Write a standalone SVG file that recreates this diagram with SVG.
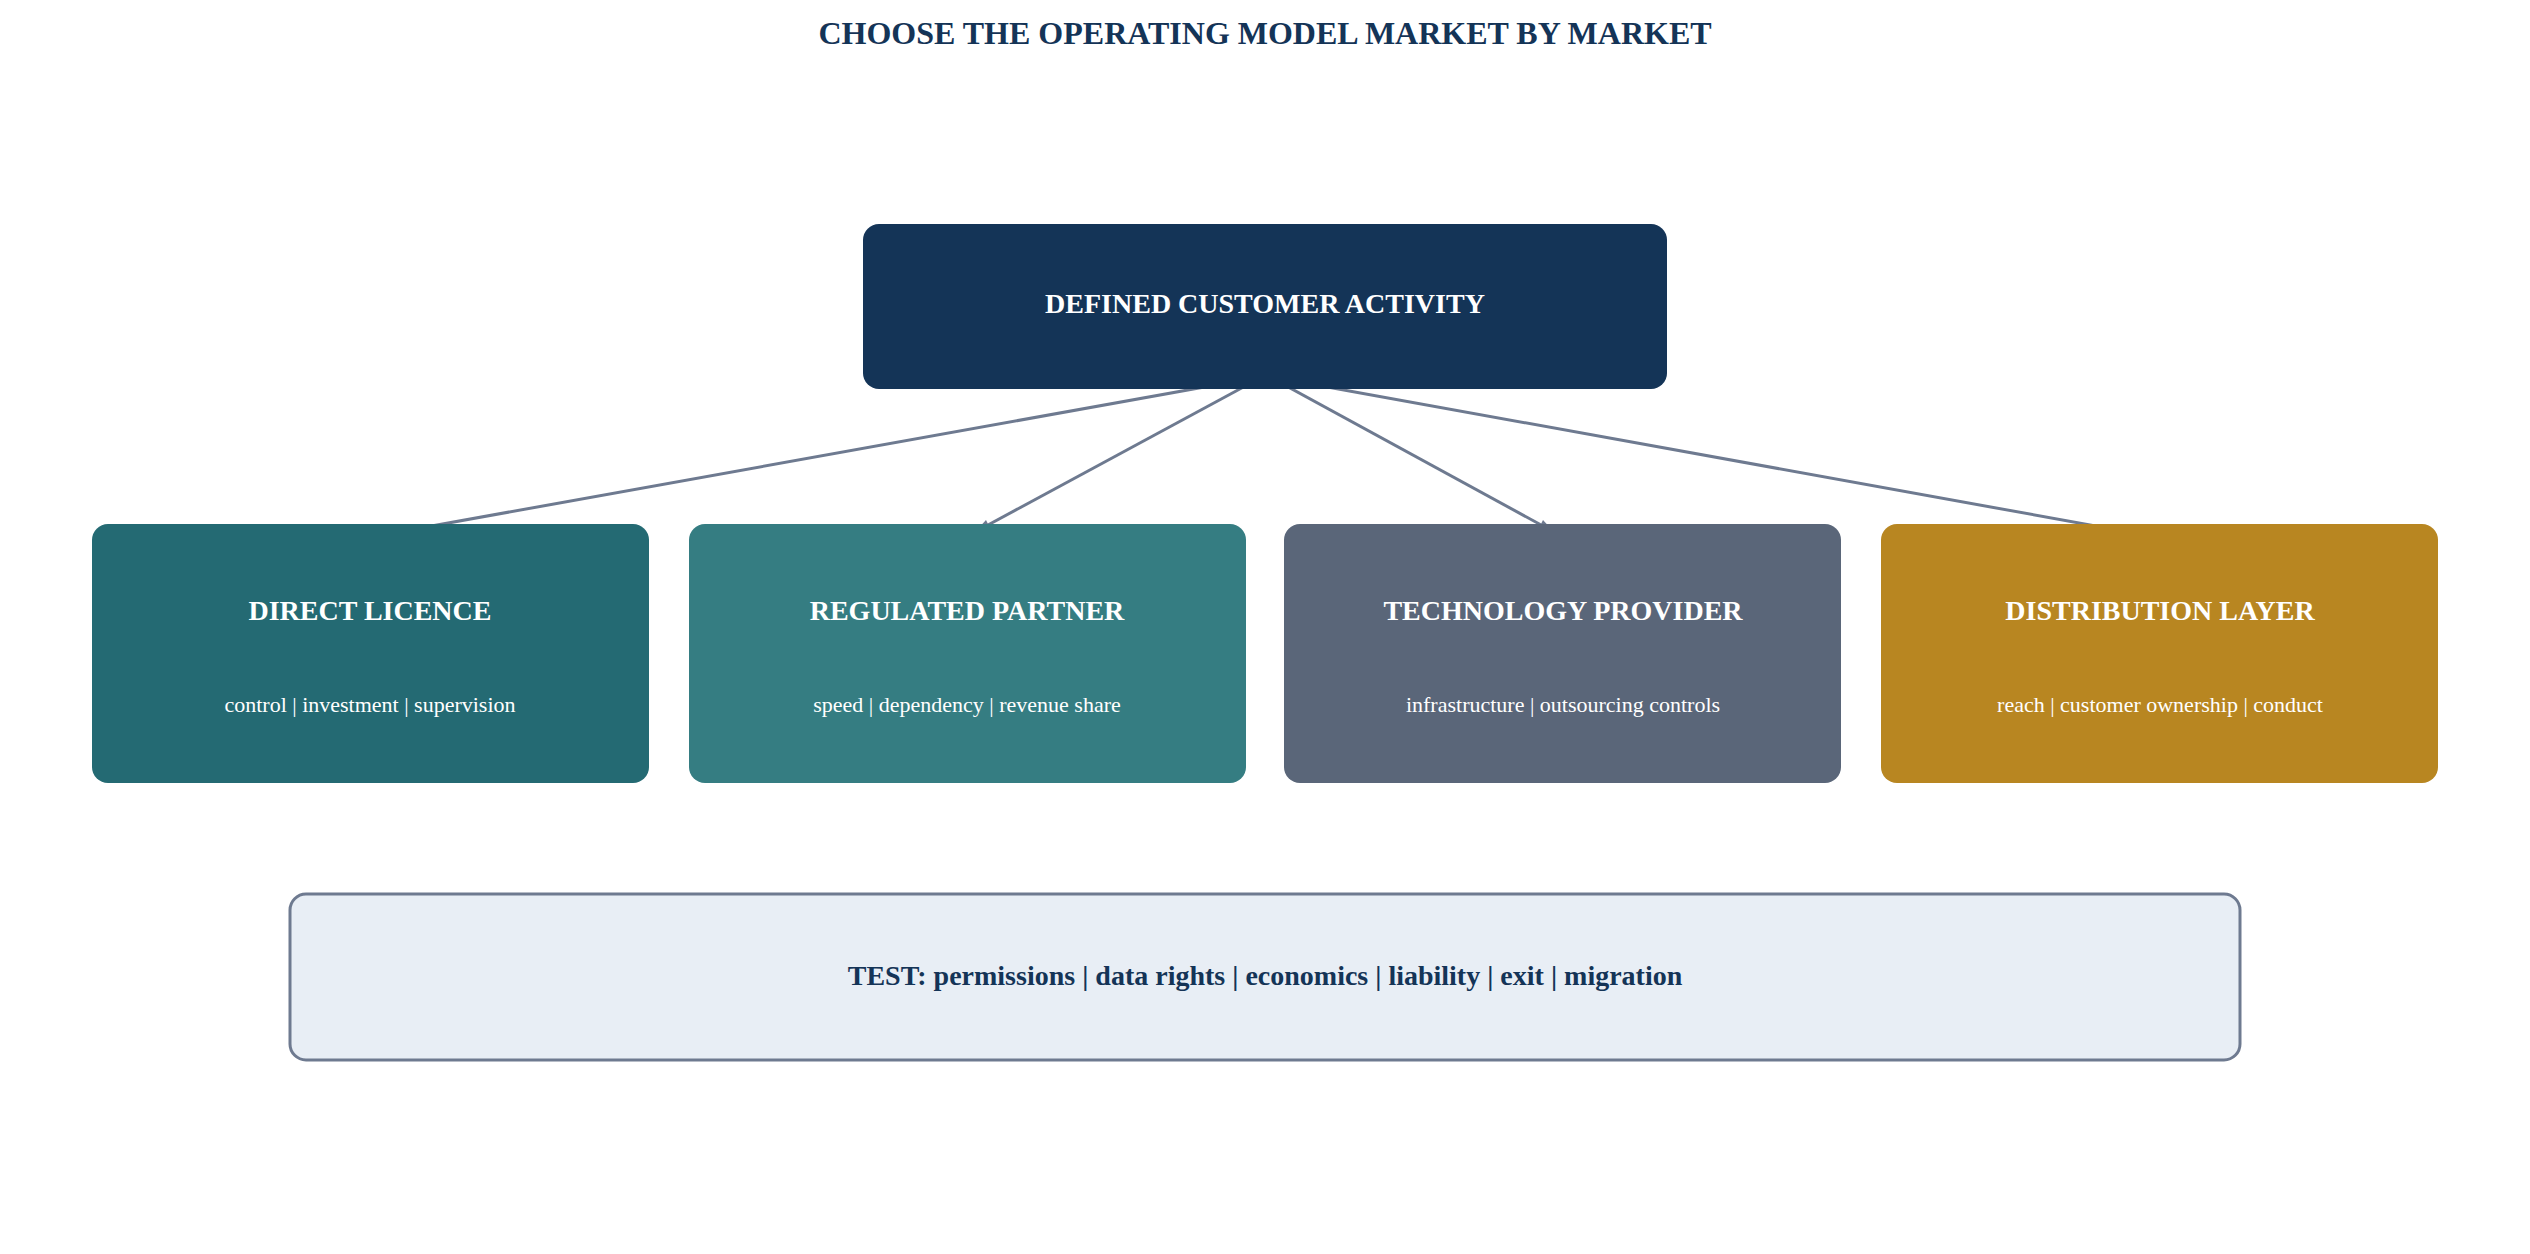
<svg xmlns="http://www.w3.org/2000/svg" width="2530" height="1254" viewBox="0 0 2530 1254">
<style>
text{font-family:"Liberation Serif","Times New Roman",serif;text-anchor:middle}
.t{font-weight:bold;fill:#fff;font-size:28px}
.s{fill:#fff;font-size:22px}
.c{stroke:#6e7a90;stroke-width:3;fill:none;marker-end:url(#a)}
</style>
<defs><marker id="a" viewBox="0 0 10 10" refX="9" refY="5" markerWidth="6" markerHeight="6" orient="auto" markerUnits="userSpaceOnUse" ><path d="M0,0L10,5L0,10z" fill="#6e7a90"/></marker></defs>
<rect width="2530" height="1254" fill="#fff"/>
<text x="1265" y="44" font-size="32" font-weight="bold" fill="#143457">CHOOSE THE OPERATING MODEL MARKET BY MARKET</text>
<g id="connectors">
<line class="c" x1="1260" y1="377" x2="376" y2="536" style="marker-end:none"/><path d="M376,536 l16,-8 l-2,12z" fill="#6e7a90"/>
<line class="c" x1="1262" y1="377" x2="975" y2="532" style="marker-end:none"/><path d="M975,532 l11,-12 l5,10z" fill="#6e7a90"/>
<line class="c" x1="1270" y1="377" x2="1554" y2="532" style="marker-end:none"/><path d="M1554,532 l-16,-2 l5,-10z" fill="#6e7a90"/>
<line class="c" x1="1272" y1="377" x2="2151" y2="536" style="marker-end:none"/><path d="M2151,536 l-18,4 l2,-12z" fill="#6e7a90"/>
</g>
<g id="top"><rect x="863" y="224" width="804" height="165" rx="16" fill="#143457"/><text class="t" x="1265" y="313" font-size="30">DEFINED CUSTOMER ACTIVITY</text></g>
<g id="n1"><rect x="92" y="524" width="557" height="259" rx="16" fill="#246a73"/><text class="t" x="370" y="620">DIRECT LICENCE</text><text class="s" x="370" y="712">control | investment | supervision</text></g>
<g id="n2"><rect x="689" y="524" width="557" height="259" rx="16" fill="#357d82"/><text class="t" x="967" y="620">REGULATED PARTNER</text><text class="s" x="967" y="712">speed | dependency | revenue share</text></g>
<g id="n3"><rect x="1284" y="524" width="557" height="259" rx="16" fill="#5a6679"/><text class="t" x="1563" y="620">TECHNOLOGY PROVIDER</text><text class="s" x="1563" y="712">infrastructure | outsourcing controls</text></g>
<g id="n4"><rect x="1881" y="524" width="557" height="259" rx="16" fill="#b88621"/><text class="t" x="2160" y="620">DISTRIBUTION LAYER</text><text class="s" x="2160" y="712">reach | customer ownership | conduct</text></g>
<g id="test"><rect x="290" y="894" width="1950" height="166" rx="16" fill="#e8eef5" stroke="#6e7a90" stroke-width="3"/><text x="1265" y="985" font-size="28" font-weight="bold" fill="#143457">TEST: permissions | data rights | economics | liability | exit | migration</text></g>
</svg>
